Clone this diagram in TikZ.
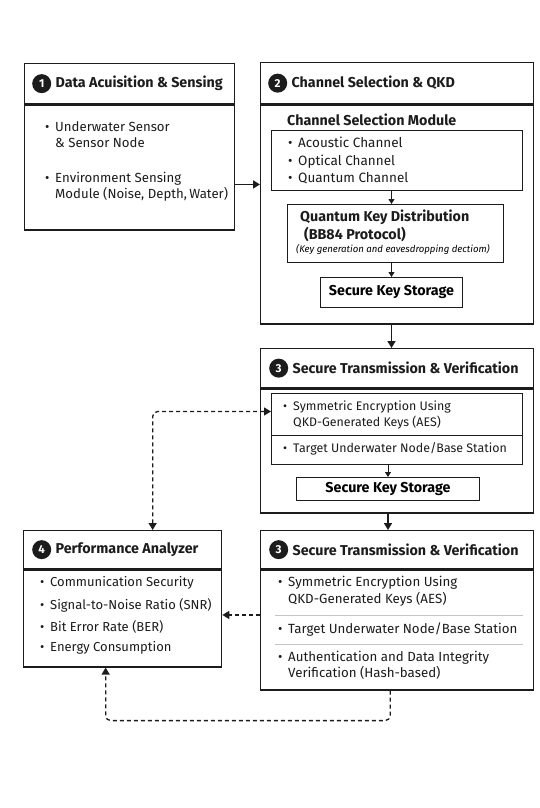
\documentclass[tikz,border=0pt]{standalone}
\usepackage{fontspec}
\setmainfont{Fira Sans}
\usetikzlibrary{arrows.meta,positioning}
\definecolor{inkblack}{HTML}{1C1C1C}
\definecolor{rulegray}{HTML}{C4C4C4}
\newcommand{\itemline}[1]{\makebox[10pt][l]{\textbullet}\begin{tabular}[t]{@{}l@{}}#1\end{tabular}}

\begin{document}
\begin{tikzpicture}[x=1pt,y=-1pt,
  panel/.style={draw=inkblack,line width=1.3pt,inner sep=0pt,anchor=north west},
  subbox/.style={draw=inkblack,line width=1pt,inner sep=0pt,anchor=north west},
  numdot/.style={circle,fill=inkblack,text=white,inner sep=0pt,minimum size=19pt,
    font=\bfseries\fontsize{11.5}{11}\selectfont},
  headtext/.style={anchor=west,inner sep=0pt,text=inkblack,font=\bfseries\fontsize{14.3}{16}\selectfont},
  subtext/.style={anchor=west,inner sep=0pt,text=inkblack,font=\bfseries\fontsize{14.3}{16}\selectfont},
  itemtext/.style={anchor=base west,inner sep=0pt,text=inkblack,font=\fontsize{13}{15}\selectfont},
  flow/.style={draw=inkblack,line width=1.6pt,-{Triangle[length=7pt,width=8pt]}},
  thinflow/.style={draw=inkblack,line width=1pt,-{Triangle[length=5pt,width=6pt]}},
  dashlink/.style={draw=inkblack,line width=1.3pt,dash pattern=on 4pt off 3pt,rounded corners=5pt},
  divider/.style={draw=rulegray,line width=0.6pt}]
  \fill[white] (0,0) rectangle (539,808);
  \useasboundingbox (0,0) rectangle (539,808);

  % 1 data acquisition
  \node[panel,minimum width=210pt,minimum height=40pt] (acqhead) at (24,63) {};
  \node[panel,minimum width=210pt,minimum height=125pt,below=0pt of acqhead] (acqbody) {};
  \node[numdot,right=8pt of acqhead.west] (n1) {1};
  \node[headtext,right=4pt of n1] {Data Acuisition \& Sensing};
  \node[itemtext,font=\fontsize{13.2}{16}\selectfont] at (45,131) {\itemline{Underwater Sensor\\\& Sensor Node}};
  \node[itemtext,font=\fontsize{13.2}{16}\selectfont] at (45,182) {\itemline{Environment Sensing\\Module (Noise, Depth,\,Water)}};

  % 2 channel selection and qkd
  \node[panel,minimum width=273pt,minimum height=41pt] (chanhead) at (260,62) {};
  \node[panel,minimum width=273pt,minimum height=219pt,below=0pt of chanhead] (chanbody) {};
  \node[numdot,right=8pt of chanhead.west] (n2) {2};
  \node[headtext,right=4pt of n2] {Channel Selection \& QKD};
  \node[subtext] at (287,120) {Channel Selection Module};
  \node[subbox,minimum width=251pt,minimum height=60pt] (chanlist) at (271,130) {};
  \node[itemtext,font=\fontsize{13.5}{15}\selectfont] at (288,147) {\itemline{Acoustic Channel}};
  \node[itemtext,font=\fontsize{13.5}{15}\selectfont] at (288,165) {\itemline{Optical Channel}};
  \node[itemtext,font=\fontsize{13.5}{15}\selectfont] at (288,182) {\itemline{Quantum Channel}};
  \node[subbox,minimum width=216pt,minimum height=58pt] (qkd) at (287,204) {};
  \node[subtext] at (300,217) {Quantum Key Distribution};
  \node[subtext] at (304,234) {(BB84 Protocol)};
  \node[anchor=west,inner sep=0pt,font=\itshape\fontsize{9.6}{11}\selectfont] at (296,249)
    {(Key generation and eavesdropping dectiom)};
  \node[subbox,minimum width=142pt,minimum height=30pt,font=\bfseries\fontsize{14.3}{16}\selectfont] (keystore) at (320,277) {Secure Key Storage};

  % 3 secure transmission (upper)
  \node[panel,minimum width=273pt,minimum height=39pt] (sechead) at (260,348) {};
  \node[panel,minimum width=273pt,minimum height=124pt,below=0pt of sechead] (secbody) {};
  \node[numdot,right=9pt of sechead.west] (n3) {3};
  \node[headtext,right=4pt of n3] {Secure Transmission \& Verification};
  \node[subbox,minimum width=251pt,minimum height=42pt] (encbox) at (271,393) {};
  \node[subbox,minimum width=251pt,minimum height=29pt] (tgtbox) at (271,435) {};
  \node[itemtext,font=\fontsize{12.4}{16}\selectfont] at (283,410) {\itemline{Symmetric Encryption Using\\QKD-Generated Keys (AES)}};
  \node[itemtext,font=\fontsize{12.4}{16}\selectfont] at (283,452) {\itemline{Target Underwater Node/Base Station}};
  \node[subbox,minimum width=183pt,minimum height=23pt,font=\bfseries\fontsize{14.3}{16}\selectfont] (keystore2) at (296,477) {Secure Key Storage};

  % 3 secure transmission (lower)
  \node[panel,minimum width=273pt,minimum height=38pt] (verhead) at (260,530) {};
  \node[panel,minimum width=273pt,minimum height=120pt,below=0pt of verhead] (verbody) {};
  \node[numdot,right=9pt of verhead.west] (n3b) {3};
  \node[headtext,right=4pt of n3b] {Secure Transmission \& Verification};
  \node[itemtext,font=\fontsize{13.3}{17}\selectfont] at (278,586) {\itemline{Symmetric Encryption Using\\QKD-Generated Keys (AES)}};
  \draw[divider] (275,615) -- (523,615);
  \node[itemtext,font=\fontsize{13.3}{17}\selectfont] at (278,633) {\itemline{Target Underwater Node/Base Station}};
  \draw[divider] (275,644) -- (523,644);
  \node[itemtext,font=\fontsize{13.3}{16}\selectfont] at (278,661) {\itemline{Authentication and Data Integrity\\Verification (Hash-based)}};

  % 4 performance analyzer
  \node[panel,minimum width=198pt,minimum height=38pt] (perfhead) at (23,530) {};
  \node[panel,minimum width=198pt,minimum height=97pt,below=0pt of perfhead] (perfbody) {};
  \node[numdot,right=9pt of perfhead.west] (n4) {4};
  \node[headtext,right=4pt of n4] {Performance Analyzer};
  \node[itemtext] at (40,586) {\itemline{Communication Security}};
  \node[itemtext] at (40,609) {\itemline{Signal-to-Noise Ratio (SNR)}};
  \node[itemtext] at (40,631) {\itemline{Bit Error Rate (BER)}};
  \node[itemtext] at (40,651) {\itemline{Energy Consumption}};

  % solid arrows
  \draw[flow] ([yshift=-17pt]acqbody.east) -- ([yshift=-17pt]acqbody.east -| chanbody.west);
  \draw[flow] (keystore.south |- chanbody.south) -- (keystore.south |- sechead.north);
  \draw[flow] (keystore2.south |- secbody.south) -- (keystore2.south |- verhead.north);
  \draw[thinflow] (chanlist.south -| keystore.south) -- (qkd.north -| keystore.south);
  \draw[thinflow] (qkd.south -| keystore.south) -- (keystore.north);
  \draw[thinflow] (tgtbox.south -| keystore2.south) -- (keystore2.north);

  % dashed feedback
  \draw[dashlink,{Triangle[length=7pt,width=8pt]}-{Triangle[length=7pt,width=8pt]}]
    ([xshift=30pt]perfhead.north) |- ([yshift=3pt]encbox.west);
  \draw[dashlink,-{Triangle[length=7pt,width=8pt]}]
    ([yshift=15pt]verbody.west) -- ([yshift=15pt]verbody.west -| perfbody.east);
  \draw[dashlink,-{Triangle[length=7pt,width=8pt]}]
    ([xshift=-7pt]verbody.south) -- ++(0,30) -| ([xshift=-17pt]perfbody.south);
\end{tikzpicture}
\end{document}
